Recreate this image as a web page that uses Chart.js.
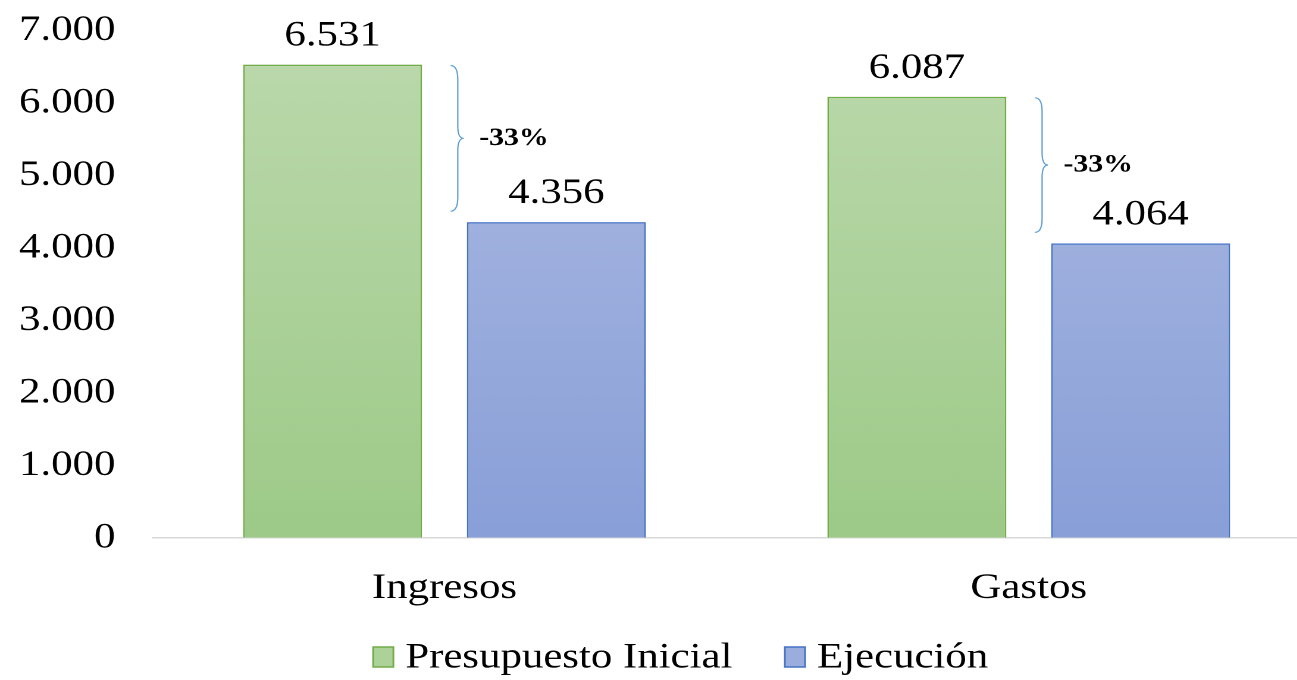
<!DOCTYPE html>
<html>
<head>
<meta charset="utf-8">
<script src="https://cdn.jsdelivr.net/npm/chart.js@4"></script>
<style>
  html, body { margin: 0; padding: 0; background: #fff; overflow: hidden; }
  /* the source chart is stretched horizontally, so draw narrower and widen */
  #wrap { position: relative; top: -22px; width: 1110px; height: 702px; transform: scaleX(1.19); transform-origin: 0 0; }
</style>
</head>
<body>
<div id="wrap"><canvas id="presupuestoChart"></canvas></div>
<script>
// Data
const categories = ['Ingresos', 'Gastos'];
const presupuestoInicial = [6531, 6087];
const ejecucion = [4356, 4064];
const yTicks = [0, 1000, 2000, 3000, 4000, 5000, 6000, 7000];

const fontFamily = '"Liberation Serif", "Times New Roman", serif';
const greenBorder = '#70ad47';
const blueBorder = '#4472c4';
const greenFill = '#acd29a';
const blueFill = '#9aaddd';

function fmt(v) {
    return String(v).replace(/\B(?=(\d{3})+(?!\d))/g, '.');
}

function gradient(ctx, top, bottom, solid) {
    const area = ctx.chart.chartArea;
    if (!area) return solid;
    const g = ctx.chart.ctx.createLinearGradient(0, area.top, 0, area.bottom);
    g.addColorStop(0, top);
    g.addColorStop(1, bottom);
    return g;
}

// Value labels above bars + brace with % change
const annotations = {
    id: 'annotations',
    afterDatasetsDraw(chart) {
        const c = chart.ctx;
        const y = chart.scales.y;
        c.save();
        c.fillStyle = '#000';
        c.textAlign = 'center';
        c.textBaseline = 'alphabetic';
        c.font = '36px ' + fontFamily;
        chart.data.datasets.forEach((ds, di) => {
            chart.getDatasetMeta(di).data.forEach((bar, i) => {
                c.fillText(fmt(ds.data[i]), bar.x, bar.y - 19);
            });
        });

        const green = chart.getDatasetMeta(0).data;
        categories.forEach((cat, i) => {
            const y1 = y.getPixelForValue(presupuestoInicial[i]) + 1;
            const y2 = y.getPixelForValue(ejecucion[i]) - 11;
            const x0 = green[i].x + green[i].width / 2 + 24;
            const xs = x0 + 6;
            const xm = x0 + 11;
            const ym = (y1 + y2) / 2;
            c.strokeStyle = '#5b9bd5';
            c.lineWidth = 1.1;
            c.beginPath();
            c.moveTo(x0, y1);
            c.quadraticCurveTo(xs, y1, xs, y1 + 14);
            c.lineTo(xs, ym - 12);
            c.quadraticCurveTo(xs, ym, xm, ym);
            c.quadraticCurveTo(xs, ym, xs, ym + 12);
            c.lineTo(xs, y2 - 14);
            c.quadraticCurveTo(xs, y2, x0, y2);
            c.stroke();

            const pct = Math.round((ejecucion[i] - presupuestoInicial[i]) / presupuestoInicial[i] * 100);
            c.font = 'bold 25px ' + fontFamily;
            c.textAlign = 'left';
            c.textBaseline = 'middle';
            c.fillText(pct + '%', xm + 13, ym);
            c.textAlign = 'center';
            c.textBaseline = 'alphabetic';
            c.font = '36px ' + fontFamily;
        });
        c.restore();
    }
};

// Legend drawn by hand so the gaps match the original
const bottomLegend = {
    id: 'bottomLegend',
    afterDraw(chart) {
        const c = chart.ctx;
        const items = chart.data.datasets.map((ds, i) => ({
            text: ds.label,
            fill: [greenFill, blueFill][i],
            stroke: ds.borderColor
        }));
        c.save();
        c.font = '36px ' + fontFamily;
        c.textBaseline = 'middle';
        c.textAlign = 'left';
        const box = 17, boxH = 20, gap = 10, itemGap = 44;
        const widths = items.map(it => box + gap + c.measureText(it.text).width);
        const total = widths.reduce((a, b) => a + b, 0) + itemGap * (items.length - 1);
        let x = 572 - total / 2;
        const cy = 679;
        items.forEach((it, i) => {
            c.fillStyle = it.fill;
            c.fillRect(x, cy - boxH / 2, box, boxH);
            c.strokeStyle = it.stroke;
            c.lineWidth = 1.5;
            c.strokeRect(x, cy - boxH / 2, box, boxH);
            c.fillStyle = '#000';
            c.fillText(it.text, x + box + gap, cy + 1);
            x += widths[i] + itemGap;
        });
        c.restore();
    }
};

new Chart(document.getElementById('presupuestoChart'), {
    type: 'bar',
    data: {
        labels: categories,
        datasets: [{
            label: 'Presupuesto Inicial',
            data: presupuestoInicial,
            backgroundColor: ctx => gradient(ctx, '#bcd9ad', '#9dca88', greenFill),
            borderColor: greenBorder,
            borderWidth: 1.5,
            borderSkipped: 'bottom',
            categoryPercentage: 0.766,
            barPercentage: 0.80
        }, {
            label: 'Ejecución',
            data: ejecucion,
            backgroundColor: ctx => gradient(ctx, '#adbbe2', '#899fd8', blueFill),
            borderColor: blueBorder,
            borderWidth: 1.5,
            borderSkipped: 'bottom',
            categoryPercentage: 0.766,
            barPercentage: 0.80
        }]
    },
    options: {
        responsive: true,
        maintainAspectRatio: false,
        animation: false,
        devicePixelRatio: 2,
        layout: { padding: { top: -5, left: -15, right: 0, bottom: 49 } },
        plugins: {
            legend: { display: false },
            tooltip: { enabled: false }
        },
        scales: {
            x: {
                grid: { display: false },
                border: { display: true, color: '#d9d9d9', width: 1.5 },
                ticks: {
                    color: '#000',
                    font: { family: fontFamily, size: 36 },
                    padding: 21
                }
            },
            y: {
                min: 0,
                max: 7000,
                afterBuildTicks: axis => { axis.ticks = yTicks.map(v => ({ value: v })); },
                grid: { display: false, drawTicks: false },
                border: { display: false },
                ticks: {
                    color: '#000',
                    font: { family: fontFamily, size: 36 },
                    padding: 31,
                    callback: v => fmt(v)
                }
            }
        }
    },
    plugins: [annotations, bottomLegend]
});
</script>
</body>
</html>
